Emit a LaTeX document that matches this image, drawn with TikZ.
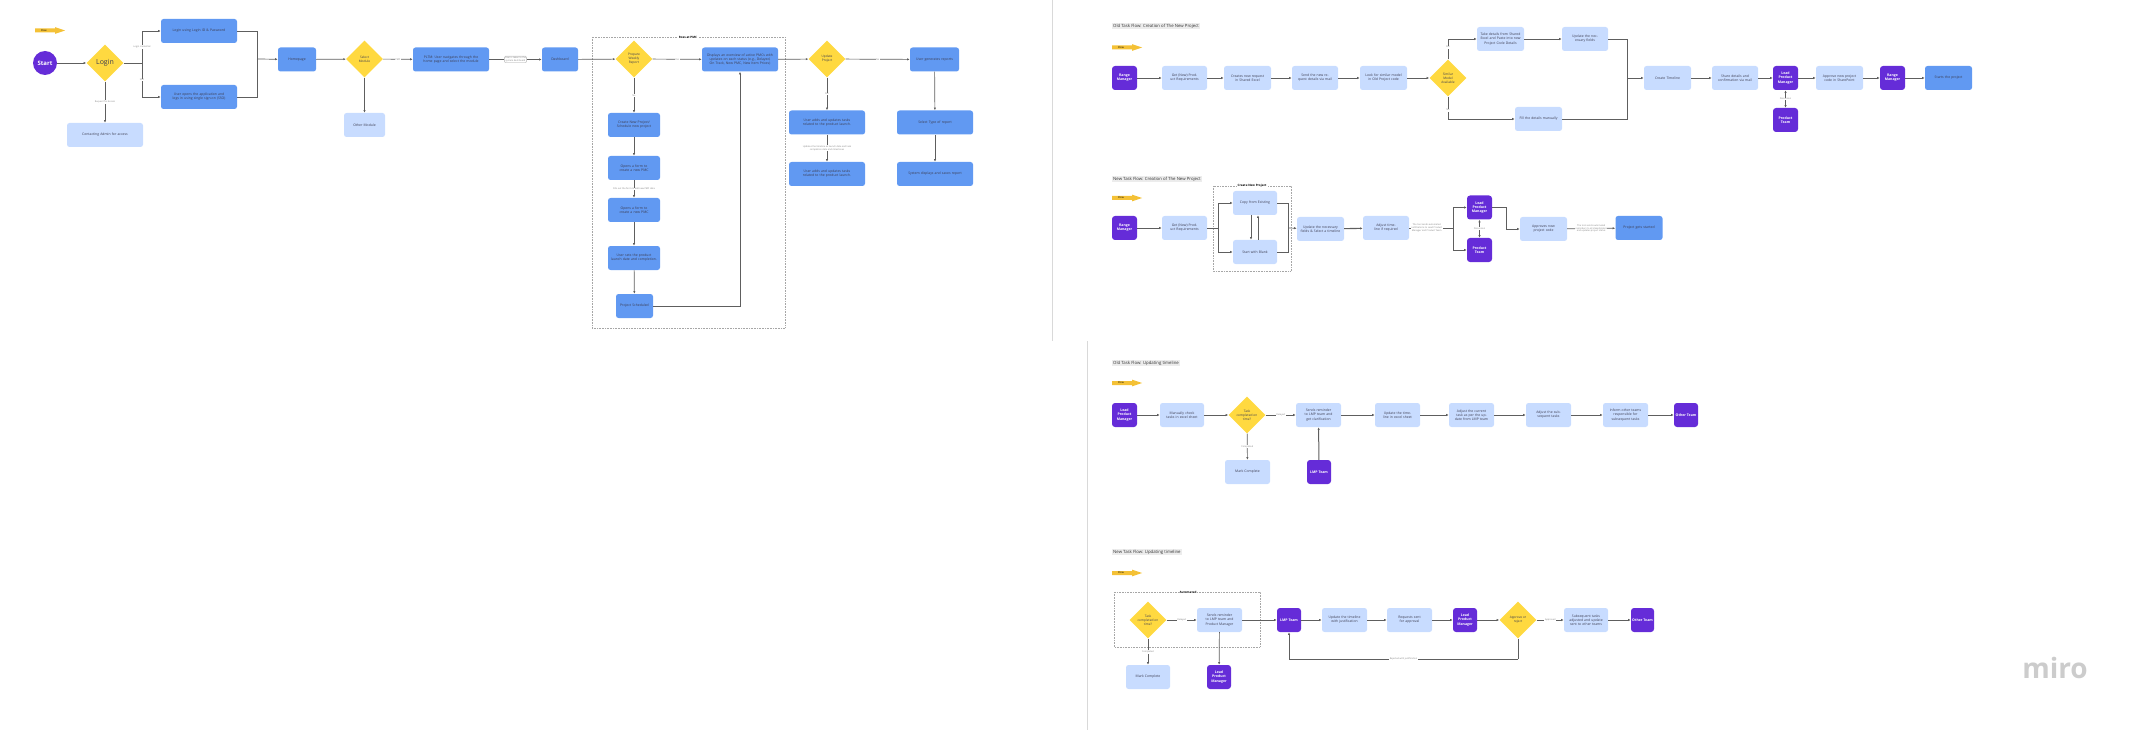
\documentclass[tikz,border=0pt]{standalone}
\usepackage{fontspec}
\setmainfont{Open Sans}
\usetikzlibrary{calc}
\usetikzlibrary{arrows.meta}
\usetikzlibrary{shapes.geometric}
\usetikzlibrary{backgrounds}
\definecolor{mpurple}{HTML}{652CD8}
\definecolor{mblue}{HTML}{6199F2}
\definecolor{mlight}{HTML}{C8DCFF}
\definecolor{myellow}{HTML}{FFD940}
\definecolor{mline}{HTML}{5E5E5E}
\definecolor{mtext}{HTML}{3C3C50}
\definecolor{mtag}{HTML}{F4C136}
\newcommand*\boxfont{\fontsize{3.4}{4.2}\selectfont}
\newcommand*\lblfont{\fontsize{2.3}{2.8}\selectfont}
\tikzset{
  bluebox/.style={rectangle,rounded corners=2.5pt,fill=mblue,inner xsep=3pt,inner ysep=0pt,
    minimum height=24pt,text width=#1,align=center,font=\boxfont,text=mtext},
  lightbox/.style={bluebox=#1,fill=mlight},
  person/.style={rectangle,rounded corners=3pt,fill=mpurple,inner sep=0pt,minimum width=25pt,
    minimum height=24pt,align=center,text=white,font=\fontsize{3.5}{4.3}\selectfont\bfseries},
  decide/.style={diamond,fill=myellow,inner sep=0pt,minimum width=37pt,minimum height=37pt,
    align=center,font=\fontsize{3.2}{4}\selectfont,text=mtext},
  lbl/.style={fill=white,inner sep=0.6pt,align=center,font=\lblfont,text=gray},
  flow/.style={draw=mline,line width=0.7pt,-{Latex[length=2.6pt,width=2.2pt]}},
  link/.style={draw=mline,line width=0.7pt},
  frame/.style={draw=gray!70,densely dotted,line width=0.6pt},
  frametitle/.style={fill=white,inner sep=0.8pt,font=\fontsize{3}{3.5}\selectfont\bfseries},
  title/.style={anchor=west,fill=gray!15,inner sep=1pt,text=black!80,font=\fontsize{4.3}{5}\selectfont}
}
\newcommand*\flowtag[3]{
  \fill[mtag] (#2,#3-2) -- (#2+20,#3-2) -- (#2+20,#3-3.4) -- (#2+30,#3) -- (#2+20,#3+3.4)
    -- (#2+20,#3+2) -- (#2,#3+2) -- cycle;
  \node[inner sep=0pt,font=\fontsize{2.6}{3}\selectfont] (#1) at (#2+9,#3) {Flow};}

\begin{document}
\begin{tikzpicture}[x=1pt,y=-1pt]
\useasboundingbox (0,0) rectangle (2139,730);
% frames
\draw[gray!30] (1052,0) -- (1052,341);
\draw[gray!30] (1087,341) -- (1087,730);
\node[text=gray!40,font=\fontsize{28}{30}\selectfont\bfseries] (logo) at (2055,668) {miro};
%
% login flow
\flowtag{tagA}{35}{30.5}
\node[circle,fill=mpurple,minimum size=24pt,inner sep=0pt,text=white,
  font=\fontsize{6}{7}\selectfont\bfseries] (start) at (45,63) {Start};
\node[decide,font=\fontsize{7}{8}\selectfont] (login) at (105,63) {Login};
\node[bluebox=70pt] (logpw) at (199,31) {Login using Login ID \& Password};
\node[bluebox=70pt] (logsso) at (199,97) {User opens the application and logs in using single sign-on (SSO)};
\node[lightbox=70pt] (admin) at (105,135) {Contacting Admin for access};
\node[bluebox=32pt] (home) at (297,59.5) {Homepage};
\node[decide] (selmod) at (364.5,59) {Select\\Module};
\node[lightbox=35pt] (othermod) at (364.5,125) {Other Module};
\node[bluebox=70pt] (pltm) at (451,59.5) {PLTM: User navigates through the home page and select the module};
\node[bluebox=30pt] (dash) at (560,59.5) {Dashboard};
\coordinate (lsplit) at (142,63);
\coordinate (lmerge) at (257,59);
\draw[flow] (start) -- (login);
\draw[link] (login) -- (lsplit);
\draw[flow] (lsplit) |- node[lbl,pos=0.25] {Login credential} (logpw);
\draw[flow] (lsplit) |- node[lbl,pos=0.25] {SSO} (logsso);
\draw[flow] (login) -- node[lbl] {Request for Access} (admin);
\draw[link] (logpw) -| (lmerge);
\draw[link] (logsso) -| (lmerge);
\draw[flow] (lmerge) -- (home);
\draw[flow] (home) -- (selmod);
\draw[flow] (selmod) -- (othermod);
\draw[flow] (selmod) -- node[lbl] {PMC} (pltm);
\draw[flow] (pltm) -- node[lbl,draw=gray!40,rounded corners=1pt] {User is taken to the\\system dashboard} (dash);
%
% ross at pmc
\draw[frame] (592,37) rectangle (785,328);
\node[frametitle] (pmctitle) at (688,37) {Ross at PMC};
\node[decide] (prep) at (634,59) {Prepare\\Weekly\\Report};
\node[bluebox=70pt] (overview) at (740,59.5) {Displays an overview of active PMCs with updates on each status (e.g., Delayed, On Track, New PMC, New Item Prices)};
\node[bluebox=46pt] (newproj) at (634,125) {Create New Project/ Schedule new project};
\node[bluebox=46pt] (form1) at (634,168) {Opens a form to create a new PMC};
\node[bluebox=46pt] (form2) at (634,210) {Opens a form to create a new PMC};
\node[bluebox=46pt] (launch) at (634,258) {User sets the product launch date and completion.};
\node[bluebox=31pt] (sched) at (634.5,306) {Project Scheduled};
\draw[flow] (dash) -- (prep);
\draw[flow] (prep) -- node[lbl] {Yes} (overview);
\draw[flow] (prep) -- node[lbl] {No} (newproj);
\draw[flow] (newproj) -- (form1);
\draw[flow] (form1) -- node[lbl] {Fills out the form to add new PMC data} (form2);
\draw[flow] (form2) -- (launch);
\draw[flow] (launch) -- (sched);
\draw[flow] (sched) -| (overview);
%
% update and reports
\node[decide] (upd) at (827,59) {Update\\Project};
\node[bluebox=70pt] (tasks1) at (827,122.5) {User adds and updates tasks related to the product launch.};
\node[bluebox=70pt] (tasks2) at (827,174) {User adds and updates tasks related to the product launch.};
\node[bluebox=43pt] (genrep) at (934.5,59.5) {User generates reports};
\node[bluebox=70pt] (seltype) at (935,122.5) {Select Type of report};
\node[bluebox=70pt] (sysrep) at (935,174) {System displays and saves report};
\draw[flow] (overview) -- (upd);
\draw[flow] (upd) -- node[lbl] {No} (genrep);
\draw[flow] (upd) -- node[lbl] {Yes} (tasks1);
\draw[flow] (tasks1) -- node[lbl] {Updates the timeline as launch date and task\\completion date and milestones} (tasks2);
\draw[flow] (genrep) -- (seltype);
\draw[flow] (seltype) -- (sysrep);
%
% old task flow: creation
\node[title] (title1) at (1112,26) {Old Task Flow: Creation of The New Project};
\flowtag{tag1}{1112}{47.5}
\node[person] (rm1) at (1124.5,78) {Range\\Manager};
\node[lightbox=39pt] (req1) at (1184.5,78) {Get (New) Product Requirements};
\node[lightbox=41pt] (excel1) at (1247.5,78) {Creates new request in Shared Excel};
\node[lightbox=40pt] (mail1) at (1315,78) {Send the new request details via mail};
\node[lightbox=41pt] (look1) at (1383.5,78) {Look for similar model in Old Project code};
\node[decide] (sim1) at (1448,78) {Similar\\Model\\Available};
\node[lightbox=41pt] (take1) at (1500.5,39) {Take details from Shared Excel and Paste into new Project Code Details};
\node[lightbox=41pt] (fill1) at (1538.5,119) {Fill the details manually};
\node[lightbox=40pt] (upf1) at (1585,39) {Update the necessary fields};
\coordinate (merge1) at (1627,78);
\node[lightbox=41pt] (tl1) at (1667.5,78) {Create Timeline};
\node[lightbox=40pt] (share1) at (1735,78) {Share details and confirmation via mail};
\node[person] (lpm1) at (1785.5,78) {Lead\\Product\\Manager};
\node[person] (pt1) at (1785.5,120) {Product\\Team};
\node[lightbox=41pt] (appr1) at (1839.5,78) {Approve new project code in SharePoint};
\node[person] (rm1b) at (1892.5,78) {Range\\Manager};
\node[bluebox=41pt] (start1) at (1948.5,78) {Starts the project};
\draw[flow] (rm1) -- (req1);
\draw[flow] (req1) -- (excel1);
\draw[flow] (excel1) -- (mail1);
\draw[flow] (mail1) -- (look1);
\draw[flow] (look1) -- (sim1);
\draw[flow] (sim1) |- node[lbl,pos=0.3] {Yes} (take1);
\draw[flow] (sim1) |- node[lbl,pos=0.3] {No} (fill1);
\draw[flow] (take1) -- (upf1);
\draw[link] (upf1) -| (merge1);
\draw[link] (fill1) -| (merge1);
\draw[flow] (merge1) -- (tl1);
\draw[flow] (tl1) -- (share1);
\draw[flow] (share1) -- (lpm1);
\draw[flow,{Latex[length=2.6pt,width=2.2pt]}-{Latex[length=2.6pt,width=2.2pt]}] (lpm1) -- node[lbl] {Discussion} (pt1);
\draw[flow] (lpm1) -- (appr1);
\draw[flow] (appr1) -- (rm1b);
\draw[flow] (rm1b) -- (start1);
%
% new task flow: creation
\node[title] (title2) at (1112,179) {New Task Flow: Creation of The New Project};
\flowtag{tag2}{1112}{198}
\node[person] (rm2) at (1124.5,228) {Range\\Manager};
\node[lightbox=39pt] (req2) at (1184.5,228) {Get (New) Product Requirements};
\draw[frame] (1213,186) rectangle (1291,271);
\node[frametitle] (newtitle) at (1252,186) {Create New Project};
\coordinate (split2) at (1218,228);
\node[lightbox=38pt] (copy2) at (1255,203) {Copy from Existing};
\node[lightbox=38pt] (blank2) at (1255,252) {Start with Blank};
\coordinate (merge2) at (1288,228);
\node[lightbox=41pt] (updf2) at (1320.5,229) {Update the necessary fields \& Select a timeline};
\node[lightbox=40pt] (adj2) at (1386,228) {Adjust timeline if required};
\coordinate (split2b) at (1453,228);
\node[person] (lpm2) at (1479.5,207.5) {Lead\\Product\\Manager};
\node[person] (pt2) at (1479.5,250) {Product\\Team};
\coordinate (merge2b) at (1506,229);
\node[lightbox=41pt] (appr2) at (1543.5,229) {Approves new project code};
\node[bluebox=41pt] (start2) at (1639,228) {Project gets started};
\draw[flow] (rm2) -- (req2);
\draw[link] (req2) -- (split2);
\draw[flow] (split2) |- (copy2);
\draw[flow] (split2) |- (blank2);
\draw[flow] ([xshift=-4pt]copy2.south) -- ([xshift=-4pt]blank2.north);
\draw[flow] ([xshift=3pt]blank2.north) -- ([xshift=3pt]copy2.south);
\draw[link] (copy2) -| (merge2);
\draw[link] (blank2) -| (merge2);
\draw[flow] (merge2) -- (updf2);
\draw[flow,line width=1.1pt] (updf2) -- (adj2);
\draw[link] (adj2) -- node[lbl,pos=0.4] {The tool sends automated\\notifications to Lead Product\\Manager and Product Team} (split2b);
\draw[flow] (split2b) |- (lpm2);
\draw[flow] (split2b) |- (pt2);
\draw[flow,{Latex[length=2.6pt,width=2.2pt]}-{Latex[length=2.6pt,width=2.2pt]}] (lpm2) -- node[lbl] {Discussion} (pt2);
\draw[link] (lpm2) -| (merge2b);
\draw[flow] (merge2b) -- (appr2);
\draw[flow] (appr2) -- node[lbl] {The tool sends automated\\reminders to all stakeholders\\and updates project status} (start2);
%
% old task flow: updating
\node[title] (title3) at (1112,363) {Old Task Flow: Updating timeline};
\flowtag{tag3}{1112}{383}
\node[person] (lpm3) at (1124.5,415) {Lead\\Product\\Manager};
\node[lightbox=38pt] (chk3) at (1182,415) {Manually check tasks in excel sheet};
\node[decide] (dec3) at (1247,415) {Task\\completed on\\time?};
\node[lightbox=39pt] (mark3) at (1247.5,472) {Mark Complete};
\node[lightbox=39pt] (send3) at (1318.5,415) {Sends reminder to LMP team and get clarification};
\node[person,minimum width=24pt] (lmp3) at (1319,472) {LMP Team};
\node[lightbox=39pt] (updt3) at (1397.5,415) {Update the timeline in excel sheet};
\node[lightbox=39pt] (adj3) at (1471.5,415) {Adjust the current task as per the update from LMP team};
\node[lightbox=39pt] (sub3) at (1548.5,415) {Adjust the subsequent tasks};
\node[lightbox=39pt] (inf3) at (1625.5,415) {Inform other teams responsible for subsequent tasks};
\node[person,minimum width=24pt] (oth3) at (1686,415) {Other Team};
\draw[flow] (lpm3) -- (chk3);
\draw[flow] (chk3) -- (dec3);
\draw[flow] (dec3) -- node[lbl] {Delayed} (send3);
\draw[flow] (dec3) -- node[lbl] {Completed} (mark3);
\draw[flow,line width=1pt] (lmp3) -- (send3);
\draw[flow] (send3) -- (updt3);
\draw[flow] (updt3) -- (adj3);
\draw[flow] (adj3) -- (sub3);
\draw[flow] (sub3) -- (inf3);
\draw[flow] (inf3) -- (oth3);
%
% new task flow: updating
\node[title] (title4) at (1112,552) {New Task Flow: Updating timeline};
\flowtag{tag4}{1112}{573}
\draw[frame] (1114,592) rectangle (1260,647);
\node[frametitle] (autotitle) at (1188,592) {Automated};
\node[decide] (dec4) at (1148,620) {Task\\completed on\\time?};
\node[lightbox=39pt] (send4) at (1219.5,620) {Sends reminder to LMP team and Product Manager};
\node[lightbox=38pt] (mark4) at (1148,677) {Mark Complete};
\node[person,minimum width=24pt] (lpm4) at (1219,677) {Lead\\Product\\Manager};
\node[person,minimum width=24pt] (lmp4) at (1289,620) {LMP Team};
\node[lightbox=39pt] (upd4) at (1344.5,620) {Update the timeline with justification};
\node[lightbox=39pt] (req4) at (1409.5,620) {Requests sent for approval};
\node[person,minimum width=24pt] (lpm4b) at (1465,620) {Lead\\Product\\Manager};
\node[decide] (dec4b) at (1518,620) {Approve or\\reject};
\node[lightbox=38pt] (sub4) at (1586,620) {Subsequent tasks adjusted and update sent to other teams};
\node[person,minimum width=23pt] (oth4) at (1642.5,620) {Other Team};
\coordinate (rej4) at (1518,659);
\draw[flow] (dec4) -- node[lbl] {Delayed} (send4);
\draw[flow] (dec4) -- node[lbl] {Completed} (mark4);
\draw[flow] (send4) -- (lpm4);
\draw[flow] (send4) -- (lmp4);
\draw[flow] (lmp4) -- (upd4);
\draw[flow] (upd4) -- (req4);
\draw[flow] (req4) -- (lpm4b);
\draw[flow] (lpm4b) -- (dec4b);
\draw[flow] (dec4b) -- node[lbl] {Approved} (sub4);
\draw[flow] (sub4) -- (oth4);
\draw[link] (dec4b) -- (rej4);
\draw[flow] (rej4) -| node[lbl,pos=0.25] {Rejected with justification} (lmp4);
\end{tikzpicture}
\end{document}
